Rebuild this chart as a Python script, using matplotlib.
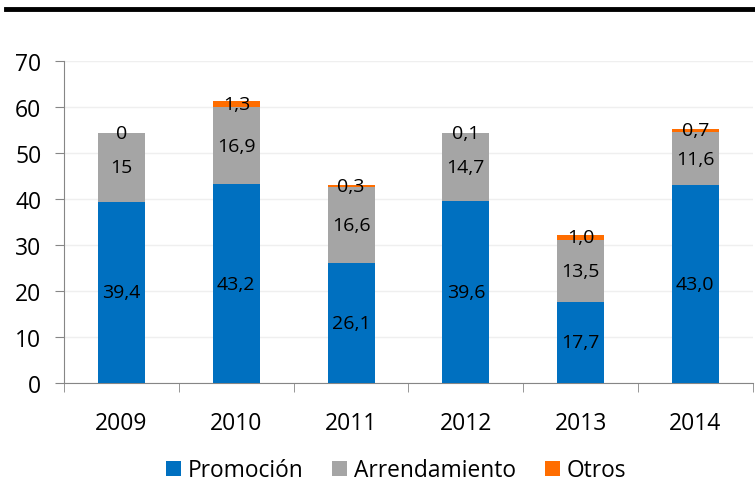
import matplotlib.pyplot as plt
import numpy as np

# datos
years = ["2009", "2010", "2011", "2012", "2013", "2014"]
promocion = [39.4, 43.2, 26.1, 39.6, 17.7, 43.0]
arrendamiento = [15, 16.9, 16.6, 14.7, 13.5, 11.6]
otros = [0, 1.3, 0.3, 0.1, 1.0, 0.7]
lab_promocion = ["39,4", "43,2", "26,1", "39,6", "17,7", "43,0"]
lab_arrendamiento = ["15", "16,9", "16,6", "14,7", "13,5", "11,6"]
lab_otros = ["0", "1,3", "0,3", "0,1", "1,0", "0,7"]

plt.rcParams['font.family'] = ['Open Sans', 'DejaVu Sans']

fig = plt.figure(figsize=(7.55, 4.85), dpi=100)
ax = fig.add_axes([0.085, 0.208, 0.912, 0.664])

x = np.arange(len(years))
w = 0.41
p = np.array(promocion)
a = np.array(arrendamiento)
o = np.array(otros)

ax.bar(x, p, w, color="#0070C0", label="Promoción", zorder=3)
ax.bar(x, a, w, bottom=p, color="#A5A5A5", label="Arrendamiento", zorder=3)
ax.bar(x, o, w, bottom=p + a, color="#FF6D00", label="Otros", zorder=3)

# etiquetas de datos
for i in range(len(years)):
    ax.text(x[i], p[i] / 2, lab_promocion[i], ha="center", va="center", fontsize=14, zorder=4)
    ax.text(x[i], p[i] + a[i] / 2, lab_arrendamiento[i], ha="center", va="center", fontsize=14, zorder=4)
    ax.text(x[i], p[i] + a[i] + o[i] / 2, lab_otros[i], ha="center", va="center", fontsize=14, zorder=4)

ax.set_ylim(0, 70)
ax.set_xlim(-0.5, len(years) - 0.5)
ax.set_yticks(range(0, 71, 10))
ax.yaxis.grid(True, color="#EFEFEF", linewidth=1, zorder=0)
ax.set_xticks(x)
ax.set_xticklabels(years)
ax.set_xticks(np.arange(-0.5, len(years), 1), minor=True)
ax.tick_params(axis="x", which="major", length=0, labelsize=16.5, pad=20)
ax.tick_params(axis="x", which="minor", length=6.5, color="#868686")
ax.tick_params(axis="y", length=6.5, color="#868686", labelsize=16.5, pad=10)
for s in ["top", "right"]:
    ax.spines[s].set_visible(False)
ax.spines["left"].set_color("#868686")
ax.spines["bottom"].set_color("#868686")

fig.legend(loc="center", bbox_to_anchor=(0.5245, 0.028), ncol=3, frameon=False,
           fontsize=16.4, handlelength=0.65, handleheight=0.65, handletextpad=0.3,
           columnspacing=1.27, borderpad=0.0)

# linea negra superior (titulo recortado)
fig.add_artist(plt.Line2D([0.008, 1.0], [0.979, 0.979], color="black", linewidth=3.5))

fig.savefig("out.png", dpi=100)
